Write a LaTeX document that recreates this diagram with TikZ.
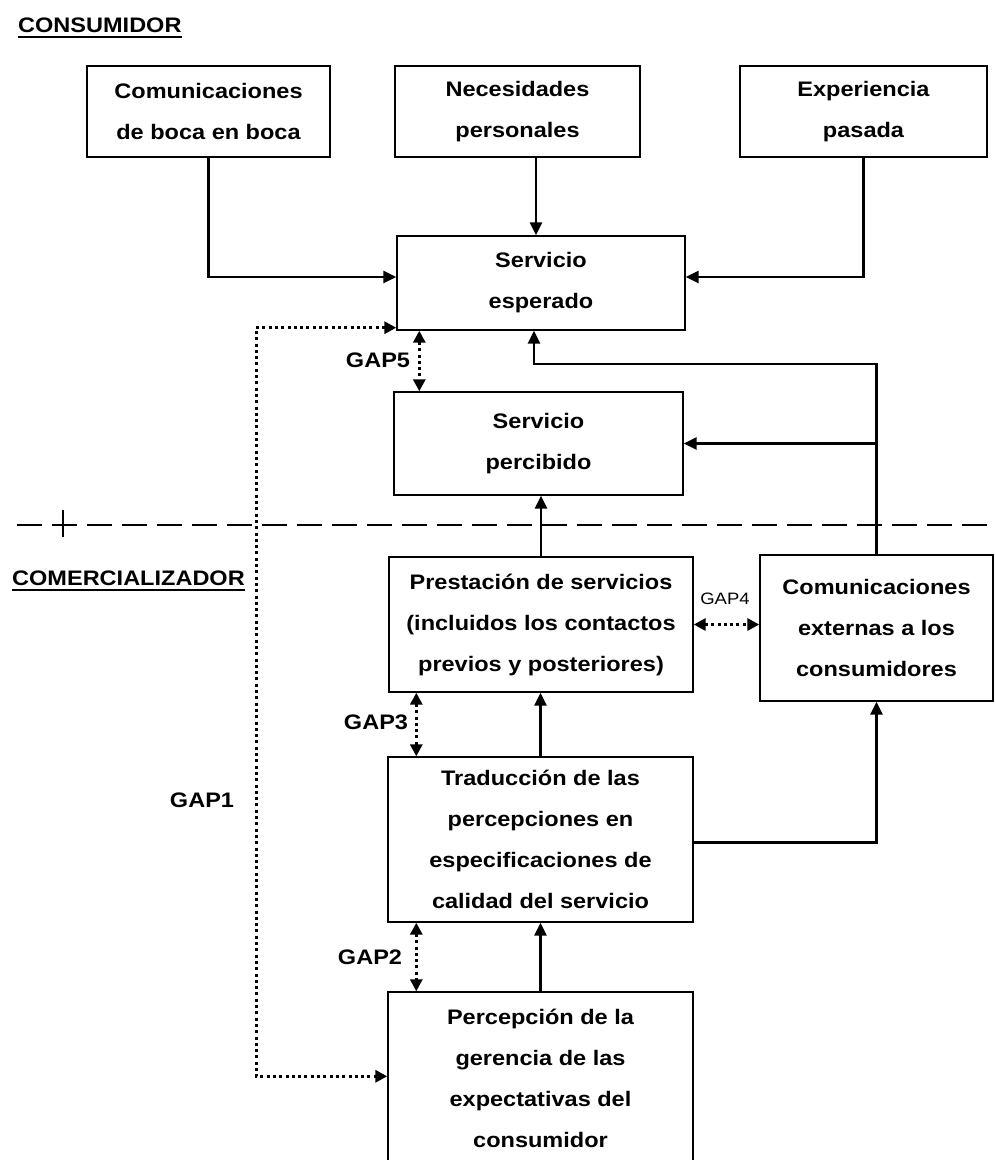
\documentclass[tikz,border=0pt]{standalone}
\usepackage{fontspec}
\newfontfamily\arialx{Liberation Sans}[FakeStretch=1.12]
\usetikzlibrary{arrows.meta,calc}
\begin{document}
\begin{tikzpicture}[x=1pt,y=-1pt,
  box/.style={draw, line width=1.4pt, align=center, inner sep=0pt,
    font=\arialx\fontsize{21}{41}\selectfont\bfseries},
  hdr/.style={inner sep=0pt, font=\arialx\fontsize{21}{25}\selectfont\bfseries},
  gap/.style={inner sep=0pt, font=\arialx\fontsize{21}{25}\selectfont\bfseries},
  gapsmall/.style={inner sep=0pt, font=\arialx\fontsize{16.5}{20}\selectfont},
  arr/.style={line width=2.6pt, -{Triangle[length=13pt,width=12pt]}},
  darr/.style={line width=3pt, dash pattern=on 3pt off 3.3pt,
    {Triangle[length=12pt,width=12pt]}-{Triangle[length=12pt,width=12pt]}}
]
\useasboundingbox (0,0) rectangle (996,1160);
\clip (0,0) rectangle (996,1160);

% headers
\node[hdr, anchor=base west] (cons) at (18,32) {CONSUMIDOR};
\draw[line width=2pt] ($(cons.base west)+(0,5)$) -- ($(cons.base east)+(0,5)$);
\node[hdr, anchor=base west] (come) at (12,585) {COMERCIALIZADOR};
\draw[line width=2pt] ($(come.base west)+(0,5)$) -- ($(come.base east)+(0,5)$);

% separator
\draw[line width=2.5pt, dash pattern=on 25pt off 10pt] (17,525) -- (996,525);
\draw[line width=1.5pt] (63,510) -- (63,537);

% boxes
\node[box, minimum width=243pt, minimum height=91pt] (b1) at (208.5,111.5) {Comunicaciones\\de boca en boca};
\node[box, minimum width=245pt, minimum height=91pt] (b2) at (517.5,111.5) {Necesidades\\personales};
\node[box, minimum width=247pt, minimum height=91pt] (b3) at (863.5,111.5) {Experiencia\\pasada};
\node[box, minimum width=288pt, minimum height=94pt] (b4) at (541,283) {Servicio\\esperado};
\node[box, minimum width=289pt, minimum height=103pt] (b5) at (538.5,443.5) {Servicio\\percibido};
\node[box, minimum width=304pt, minimum height=135pt] (b6) at (541,624.5) {Prestación de servicios\\(incluidos los contactos\\previos y posteriores)};
\node[box, minimum width=233pt, minimum height=146pt] (b7) at (876.5,628) {Comunicaciones\\externas a los\\consumidores};
\node[box, minimum width=305pt, minimum height=165pt] (b8) at (540.5,839.5) {Traducción de las\\percepciones en\\especificaciones de\\calidad del servicio};
\node[box, minimum width=305pt, minimum height=172pt] (b9) at (540.5,1078) {Percepción de la\\gerencia de las\\expectativas del\\consumidor};

% gap labels
\node[gap] (g5) at (378,360) {GAP5};
\node[gap] (g3) at (376,722) {GAP3};
\node[gap] (g2) at (370,957) {GAP2};
\node[gap] (g1) at (202,800) {GAP1};
\node[gapsmall] (g4) at (725,599) {GAP4};

% solid connectors
\draw[arr] (b1.south) |- ($(b4.west)+(0,-6)$);
\draw[arr] ([xshift=-5pt]b4.north |- b2.south) -- ([xshift=-5pt]b4.north);
\draw[arr] (b3.south) |- ($(b4.east)+(0,-6)$);
\coordinate (k) at (534,364);
\draw[arr] (b7.north) |- (k) -- (k |- b4.south);
\draw[arr] (b5.east -| b7.north) -- (b5.east);
\draw[arr] (b6.north) -- (b6.north |- b5.south);
\draw[arr] (b8.north) -- (b8.north |- b6.south);
\draw[arr] ($(b8.east)+(0,3)$) -| (b7.south);
\draw[arr] (b9.north) -- (b9.north |- b8.south);

% dotted gap connectors
\coordinate (gx) at (256,700);
\draw[darr] ($(b4.south west)+(0,-3)$) -| (gx) |- ($(b9.north west)+(0,85)$);
\draw[darr] ([xshift=23pt]b4.south west) -- ([xshift=23pt]b4.south west |- b5.north);
\draw[darr] (b6.east) -- (b6.east -| b7.west);
\draw[darr] ([xshift=28pt]b6.south west) -- ([xshift=28pt]b6.south west |- b8.north);
\draw[darr] ([xshift=29pt]b8.south west) -- ([xshift=29pt]b8.south west |- b9.north);
\end{tikzpicture}
\end{document}
